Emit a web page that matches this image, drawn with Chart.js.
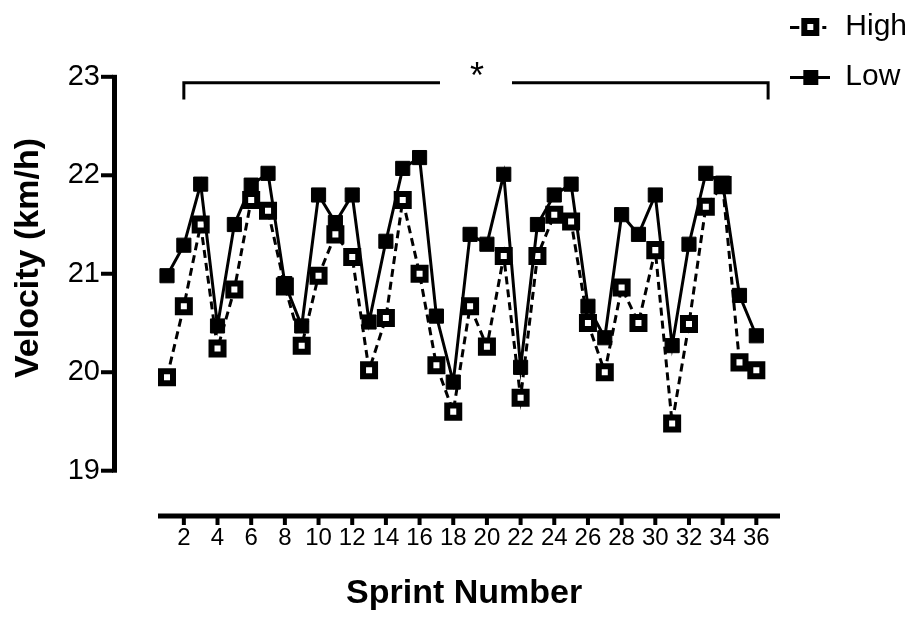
<!DOCTYPE html>
<html>
<head>
<meta charset="utf-8">
<script src="https://cdn.jsdelivr.net/npm/chart.js@4.4.1/dist/chart.umd.min.js"></script>
<style>
  html, body { margin: 0; padding: 0; background: #ffffff; }
  #wrap { width: 919px; height: 620px; position: relative; }
</style>
</head>
<body>
<div id="wrap"><canvas id="c" width="919" height="620"></canvas></div>
<script>
// ---------------- data ----------------
const sprints = [1, 2, 3, 4, 5, 6, 7, 8, 9, 10, 11, 12, 13, 14, 15, 16, 17, 18,
                 19, 20, 21, 22, 23, 24, 25, 26, 27, 28, 29, 30, 31, 32, 33, 34, 35, 36];
const highVelocity = [19.95, 20.67, 21.50, 20.24, 20.84, 21.75, 21.64, 20.87, 20.27, 20.98,
                      21.40, 21.17, 20.02, 20.55, 21.75, 21.00, 20.07, 19.60, 20.67, 20.26,
                      21.18, 19.74, 21.18, 21.60, 21.53, 20.50, 20.00, 20.86, 20.50, 21.24,
                      19.48, 20.49, 21.68, 21.90, 20.10, 20.02];
const lowVelocity  = [20.98, 21.29, 21.91, 20.47, 21.50, 21.90, 22.02, 20.90, 20.47, 21.80,
                      21.52, 21.80, 20.51, 21.33, 22.07, 22.18, 20.57, 19.90, 21.40, 21.30,
                      22.01, 20.05, 21.50, 21.80, 21.91, 20.67, 20.35, 21.60, 21.40, 21.80,
                      20.27, 21.30, 22.02, 21.92, 20.78, 20.37];
const xTickValues = [2, 4, 6, 8, 10, 12, 14, 16, 18, 20, 22, 24, 26, 28, 30, 32, 34, 36];
const yTickValues = [19, 20, 21, 22, 23];
const seriesNames = ['High', 'Low'];
const xTitle = 'Sprint Number';
const yTitle = 'Velocity (km/h)';
const significanceMark = '*';

// ---------------- styling ----------------
const FONT = "Arial, 'Liberation Sans', Helvetica, sans-serif";
Chart.defaults.font.family = FONT;
Chart.defaults.color = '#000000';

function makeIcon(kind) {
  const c = document.createElement('canvas');
  c.width = 40; c.height = 22;
  const g = c.getContext('2d');
  g.fillStyle = '#000';
  if (kind === 'open') {
    g.fillRect(0, 10, 9, 3);
    g.fillRect(11, 2, 18, 18);
    g.fillStyle = '#fff';
    g.fillRect(17, 8, 6, 6);
    g.fillStyle = '#000';
    g.fillRect(32, 10, 4, 3);
  } else {
    g.fillRect(0, 10, 40, 3);
    g.fillRect(13, 4, 15, 15);
  }
  return c;
}
const legendIcons = [makeIcon('open'), makeIcon('filled')];

const prismAxes = {
  id: 'prismAxes',
  afterDraw(chart) {
    const { ctx, chartArea, scales } = chart;
    const x = scales.x, y = scales.y;
    ctx.save();
    ctx.fillStyle = '#000';
    ctx.strokeStyle = '#000';
    // y axis (offset from plot)
    const yTop = y.getPixelForValue(yTickValues[yTickValues.length - 1]);
    const yBot = y.getPixelForValue(yTickValues[0]);
    const axX = chartArea.left - 46;
    ctx.fillRect(axX, yTop - 2, 5, yBot - yTop + 4);
    yTickValues.forEach(v => {
      const py = y.getPixelForValue(v);
      ctx.fillRect(axX - 11, py - 2, 12, 4);
    });
    // x axis
    const by = chartArea.bottom;
    ctx.fillRect(chartArea.left, by - 2.5, 780 - chartArea.left, 5);
    xTickValues.forEach(v => {
      const px = x.getPixelForValue(v);
      ctx.fillRect(px - 2, by, 4, 9);
    });
    // significance bracket
    const bx1 = x.getPixelForValue(2), bx2 = x.getPixelForValue(36.7);
    const byTop = y.getPixelForValue(22.94), byTip = y.getPixelForValue(22.77);
    const mid = (bx1 + bx2) / 2;
    ctx.lineWidth = 3;
    ctx.beginPath();
    ctx.moveTo(bx1, byTip); ctx.lineTo(bx1, byTop); ctx.lineTo(mid - 36, byTop);
    ctx.moveTo(mid + 36, byTop); ctx.lineTo(bx2, byTop); ctx.lineTo(bx2, byTip);
    ctx.stroke();
    ctx.font = '36px ' + FONT;
    ctx.textAlign = 'center';
    ctx.textBaseline = 'alphabetic';
    ctx.fillText(significanceMark, mid + 1, byTop + 5);
    ctx.restore();
  }
};

new Chart(document.getElementById('c'), {
  type: 'line',
  data: {
    labels: sprints,
    datasets: [
      {
        label: seriesNames[0],
        data: highVelocity,
        order: 1,
        borderColor: '#000',
        borderWidth: 3,
        borderDash: [8, 5],
        fill: false,
        tension: 0,
        pointStyle: 'rect',
        pointRadius: 8.5,
        pointHoverRadius: 8.5,
        pointBorderWidth: 6,
        pointBackgroundColor: '#fff',
        pointBorderColor: '#000'
      },
      {
        label: seriesNames[1],
        data: lowVelocity,
        order: 0,
        borderColor: '#000',
        borderWidth: 3,
        fill: false,
        tension: 0,
        pointStyle: 'rect',
        pointRadius: 10,
        pointHoverRadius: 10,
        pointBorderWidth: 1,
        pointBackgroundColor: '#000',
        pointBorderColor: '#000'
      }
    ]
  },
  options: {
    responsive: false,
    devicePixelRatio: 1,
    animation: false,
    layout: { autoPadding: false, padding: { top: -8, right: 2, bottom: 0, left: 0 } },
    plugins: {
      tooltip: { enabled: false },
      legend: {
        position: 'right',
        align: 'start',
        labels: {
          usePointStyle: true,
          pointStyleWidth: 40,
          padding: 20,
          color: '#000',
          font: { size: 30, family: FONT },
          sort: (a, b) => a.datasetIndex - b.datasetIndex,
          generateLabels(chart) {
            const items = Chart.defaults.plugins.legend.labels.generateLabels(chart);
            items.forEach(it => { it.pointStyle = legendIcons[it.datasetIndex]; });
            return items;
          }
        }
      }
    },
    scales: {
      x: {
        type: 'linear',
        min: 0.465,
        max: 36.83,
        grid: { display: false, drawTicks: false },
        border: { display: false },
        afterBuildTicks: (s) => { s.ticks = xTickValues.map(v => ({ value: v })); },
        afterFit: (s) => { s.height = 104; s.paddingLeft = 0; s.paddingRight = 0; },
        ticks: { autoSkip: false, maxRotation: 0, padding: 8, color: '#000', font: { size: 24 } },
        title: { display: true, text: xTitle, color: '#000', font: { size: 34, weight: 'bold' }, padding: { top: 0, bottom: 6 } }
      },
      y: {
        min: 18.54,
        max: 23.78,
        grid: { display: false, drawTicks: false },
        border: { display: false },
        afterBuildTicks: (s) => { s.ticks = yTickValues.map(v => ({ value: v })); },
        afterFit: (s) => { s.width = 158; s.paddingTop = 0; s.paddingBottom = 0; },
        ticks: { padding: 58, color: '#000', font: { size: 29 } },
        title: { display: true, text: yTitle, color: '#000', font: { size: 34, weight: 'bold' }, padding: { top: 8, bottom: 0 } }
      }
    }
  },
  plugins: [prismAxes]
});
</script>
</body>
</html>
